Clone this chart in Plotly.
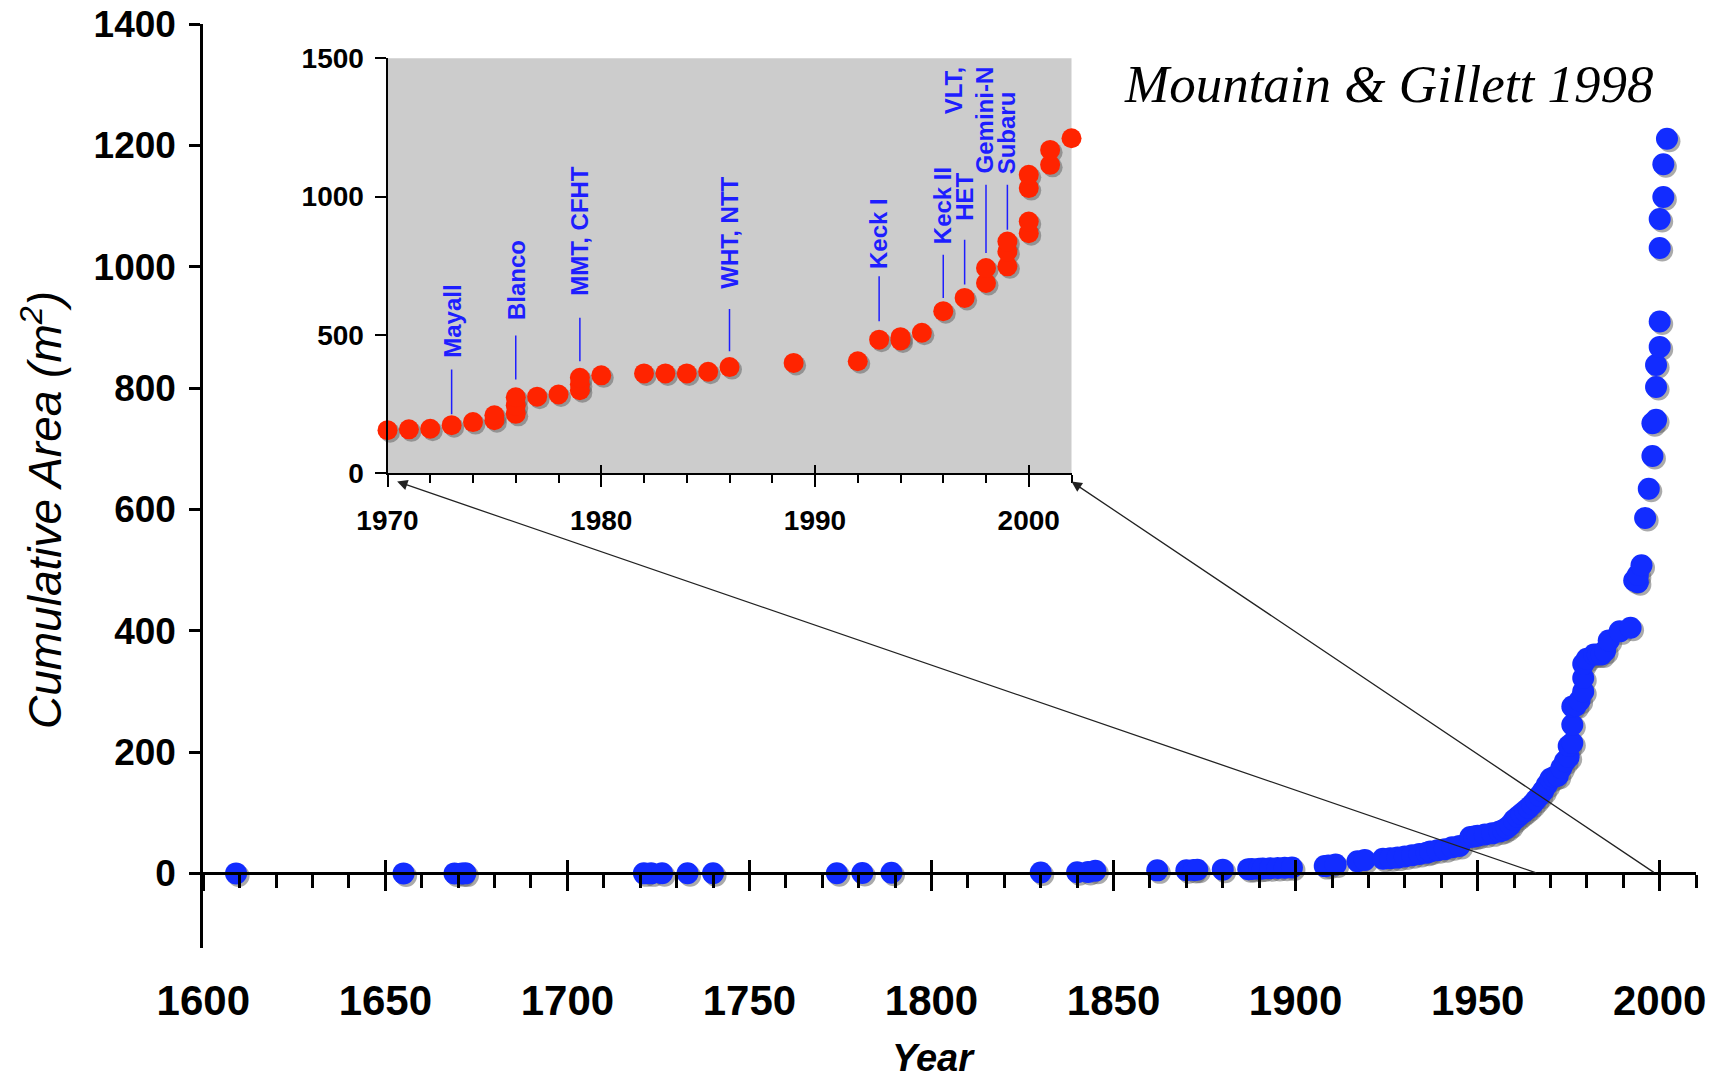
import plotly.graph_objects as go

PAGE_W, PAGE_H = 1726, 1087
OFF = 8                      # default page body margin
W, H = PAGE_W - 2 * OFF, PAGE_H - 2 * OFF

# ---------------- data ----------------
years = [1609, 1655, 1669, 1671, 1672, 1721, 1723, 1726, 1733, 1740, 1774, 1781, 1789,
         1830, 1840, 1843, 1845, 1862, 1870, 1872, 1873, 1880, 1887, 1888, 1890, 1891,
         1893, 1895, 1897, 1899, 1908, 1909, 1911, 1917, 1919, 1924, 1926, 1928, 1930,
         1932, 1934, 1936, 1937, 1939, 1941, 1943, 1945, 1948, 1949, 1950, 1952, 1954,
         1956, 1957, 1958, 1959, 1960, 1961, 1962, 1963, 1964, 1965, 1966, 1967, 1968,
         1969,
         1970, 1971, 1972, 1973, 1974, 1975, 1975, 1976, 1976, 1976, 1977, 1978, 1979,
         1979, 1979, 1980, 1982, 1983, 1984, 1985, 1986, 1989, 1992, 1993, 1994, 1994,
         1995, 1996, 1997, 1998, 1998, 1999, 1999, 1999, 2000, 2000, 2000, 2000, 2001,
         2001, 2002]
area = [0.0, 0.0, 0.01, 0.02, 0.03, 0.05, 0.07, 0.1, 0.15, 0.2, 0.3, 0.5, 1.2,
        1.6, 2.0, 2.4, 4.5, 5.0, 5.3, 5.6, 5.9, 6.2, 7.0, 7.4, 7.8, 8.2,
        8.6, 9.0, 9.4, 9.8, 12, 13, 14.5, 20, 22, 24, 25, 26, 28,
        30, 32, 34, 36, 38, 40, 43, 45, 60, 61, 62, 64, 66,
        69, 71, 75, 80, 88, 93, 98, 103, 108, 114, 121, 128, 136,
        146,
        156, 159, 161, 174, 185, 192, 210, 215, 245, 275, 277, 285, 300,
        322, 345, 354, 361, 361, 361, 367, 384, 399, 405, 483, 480, 492,
        508, 586, 634, 688, 742, 748, 802, 838, 868, 910, 1031, 1079, 1115,
        1169, 1211]
inset_start_year = 1970

label_names = ["Mayall", "Blanco", "MMT, CFHT", "WHT, NTT", "Keck I", "Keck II", "HET",
               "VLT,<br>Gemini-N", "Subaru"]
label_years = [1973, 1976, 1979, 1986, 1993, 1996, 1997, 1998, 1999]

main_x_ticks_major = 50
main_y_ticks = [0, 200, 400, 600, 800, 1000, 1200, 1400]
inset_y_ticks = [0, 500, 1000, 1500]

# ---------------- layout geometry (page pixels) ----------------
MX0, MX1 = 203.3, 1696.1      # main plot x extent
MY_TOP, MY_BOT = 24.2, 948.3  # main plot y extent
M_XR = [1600, 2010]
M_YR = [-123.5, 1400]
IX0, IX1 = 387.5, 1071.5      # inset x extent
IY_TOP, IY_BOT = 58.3, 473.3
I_XR = [1970, 2002]
I_YR = [0, 1500]

# label layout (inset data units)
label_text_y = [411, 546, 634, 658, 730, 820, 904, 1476, 1073]
label_anchor = ["bottom"] * 7 + ["top", "bottom"]
label_line_lo = [213, 339, 405, 441, 550, 634, 682, 796, 880]
label_line_hi = [375, 498, 562, 594, 712, 790, 844, 1043, 1043]

BLUE = "rgb(18,44,255)"
RED = "rgb(255,36,0)"
LBLUE = "rgb(30,30,255)"
SHADOW = "rgba(100,100,100,0.55)"
SANS = "Liberation Sans, Arial, sans-serif"


def px2paper_x(px):
    return (px - OFF) / W


def px2paper_y(py):
    return 1 - (py - OFF) / H


def data2px(v, r, p0, p1):
    return p0 + (v - r[0]) / (r[1] - r[0]) * (p1 - p0)


def px2data(p, r, p0, p1):
    return r[0] + (p - p0) / (p1 - p0) * (r[1] - r[0])


m_x_dom = [px2paper_x(MX0), px2paper_x(MX1)]
m_y_dom = [px2paper_y(MY_BOT), px2paper_y(MY_TOP)]
i_x_dom = [px2paper_x(IX0), px2paper_x(IX1)]
i_y_dom = [px2paper_y(IY_BOT), px2paper_y(IY_TOP)]
zero_py = data2px(0, M_YR, MY_BOT, MY_TOP)
zero_paper = px2paper_y(zero_py)

# shadow offsets in data units (2.5px right/down)
m_dx = 2.5 * (M_XR[1] - M_XR[0]) / (MX1 - MX0)
m_dy = -2.5 * (M_YR[1] - M_YR[0]) / (MY_BOT - MY_TOP)
i_dx = 2.5 * (I_XR[1] - I_XR[0]) / (IX1 - IX0)
i_dy = -2.5 * (I_YR[1] - I_YR[0]) / (IY_BOT - IY_TOP)

ins_years = [y for y in years if y >= inset_start_year]
ins_area = [a for y, a in zip(years, area) if y >= inset_start_year]

fig = go.Figure()

# main series
fig.add_trace(go.Scatter(x=[y + m_dx for y in years], y=[a + m_dy for a in area],
                         mode="markers", marker=dict(size=22, color=SHADOW),
                         hoverinfo="skip", showlegend=False, cliponaxis=False))
fig.add_trace(go.Scatter(x=years, y=area, mode="markers", name="Cumulative area",
                         marker=dict(size=22, color=BLUE), showlegend=False,
                         cliponaxis=False))
# helper trace so tick-only axis gets drawn
fig.add_trace(go.Scatter(x=[None], y=[None], xaxis="x2", yaxis="y",
                         showlegend=False, hoverinfo="skip"))

# inset label leader lines
lx, ly = [], []
for yr, lo, hi in zip(label_years, label_line_lo, label_line_hi):
    lx += [yr, yr, None]
    ly += [lo, hi, None]
fig.add_trace(go.Scatter(x=lx, y=ly, mode="lines", line=dict(color=LBLUE, width=1.5),
                         xaxis="x3", yaxis="y3", showlegend=False, hoverinfo="skip"))
# inset series
fig.add_trace(go.Scatter(x=[y + i_dx for y in ins_years], y=[a + i_dy for a in ins_area],
                         mode="markers", marker=dict(size=20, color=SHADOW),
                         xaxis="x3", yaxis="y3", hoverinfo="skip", showlegend=False,
                         cliponaxis=False))
fig.add_trace(go.Scatter(x=ins_years, y=ins_area, mode="markers",
                         marker=dict(size=20, color=RED), xaxis="x3", yaxis="y3",
                         showlegend=False, cliponaxis=False))
fig.add_trace(go.Scatter(x=[None], y=[None], xaxis="x4", yaxis="y3",
                         showlegend=False, hoverinfo="skip"))

tick_font_main_x = dict(family=SANS, size=42, color="black", weight="bold")
tick_font_main_y = dict(family=SANS, size=37, color="black", weight="bold")
tick_font_inset = dict(family=SANS, size=28, color="black", weight="bold")

fig.update_layout(
    width=W, height=H,
    margin=dict(l=0, r=0, t=0, b=0, autoexpand=False),
    paper_bgcolor="white", plot_bgcolor="rgba(0,0,0,0)",
    showlegend=False,
    xaxis=dict(domain=m_x_dom, range=M_XR, anchor="free", position=zero_paper,
               automargin=False, ticklabeloverflow="allow",
               showline=True, linewidth=3, linecolor="black",
               ticks="outside", ticklen=16, tickwidth=3, tickcolor="black",
               tick0=1600, dtick=main_x_ticks_major,
               minor=dict(dtick=10, ticks="outside", ticklen=13, tickwidth=2.5,
                          tickcolor="black", showgrid=False),
               tickfont=tick_font_main_x, ticklabelstandoff=73,
               showgrid=False, zeroline=False),
    xaxis2=dict(domain=m_x_dom, range=M_XR, anchor="free", position=zero_paper,
                automargin=False,
                overlaying="x", showline=False, ticks="inside", ticklen=13,
                tickwidth=3, tickcolor="black", tick0=1600, dtick=main_x_ticks_major,
                showticklabels=False, showgrid=False, zeroline=False),
    yaxis=dict(domain=m_y_dom, range=M_YR, anchor="x", showline=True, linewidth=3,
               automargin=False, ticklabeloverflow="allow",
               linecolor="black", ticks="outside", ticklen=11, tickwidth=3,
               tickcolor="black", tickvals=main_y_ticks, tickfont=tick_font_main_y,
               ticklabelstandoff=6, showgrid=False, zeroline=False),
    xaxis3=dict(domain=i_x_dom, range=I_XR, anchor="y3", showline=True, linewidth=2,
                automargin=False, ticklabeloverflow="allow",
                linecolor="black", ticks="outside", ticklen=12, tickwidth=2,
                tickcolor="black", tick0=1970, dtick=10,
                minor=dict(dtick=2, ticks="outside", ticklen=8, tickwidth=2,
                           tickcolor="black", showgrid=False),
                tickfont=tick_font_inset, ticklabelstandoff=9,
                showgrid=False, zeroline=False),
    xaxis4=dict(domain=i_x_dom, range=I_XR, anchor="y3", overlaying="x3",
                automargin=False,
                showline=False, ticks="inside", ticklen=8, tickwidth=2,
                tickcolor="black", tick0=1970, dtick=10, showticklabels=False,
                showgrid=False, zeroline=False),
    yaxis3=dict(domain=i_y_dom, range=I_YR, anchor="x3", showline=True, linewidth=2,
                automargin=False, ticklabeloverflow="allow",
                linecolor="black", ticks="outside", ticklen=11, tickwidth=2,
                tickcolor="black", tickvals=inset_y_ticks, tickfont=tick_font_inset,
                ticklabelstandoff=5, showgrid=False, zeroline=False),
)

fig.add_shape(type="rect", xref="x3 domain", yref="y3 domain", x0=0, x1=1, y0=0, y1=1,
              fillcolor="#cccccc", line=dict(width=0), layer="below")

# telescope labels
for name, yr, ty, anc in zip(label_names, label_years, label_text_y, label_anchor):
    two_line = "<br>" in name
    fig.add_annotation(x=yr, y=ty, xref="x3", yref="y3", text=name, showarrow=False,
                       textangle=-90, xanchor="right" if two_line else "center",
                       yanchor=anc, align="right", xshift=14 if two_line else 0,
                       font=dict(family=SANS, size=24, color=LBLUE, weight="bold"))

# zoom arrows (head at inset corners, tail on main axis)
def inset_to_main(xv, yv):
    px = data2px(xv, I_XR, IX0, IX1)
    py = data2px(yv, I_YR, IY_BOT, IY_TOP)
    return px2data(px, M_XR, MX0, MX1), px2data(py, M_YR, MY_BOT, MY_TOP)

for (hx, hy), tail_year in [((1970.45, -30), 1966.5), ((2002.0, -30), 1998.8)]:
    mx, my = inset_to_main(hx, hy)
    fig.add_annotation(x=mx, y=my, xref="x", yref="y", ax=tail_year, ay=0,
                       axref="x", ayref="y", text="", showarrow=True,
                       arrowhead=2, arrowsize=1.6, arrowwidth=1.3,
                       arrowcolor="#222222", standoff=0, startstandoff=0)

# titles
fig.add_annotation(x=px2paper_x(1122), y=px2paper_y(84), xref="paper", yref="paper",
                   text="Mountain &amp; Gillett 1998", showarrow=False, xanchor="left",
                   yanchor="middle",
                   font=dict(family="Liberation Serif, Times New Roman, serif", size=53,
                             style="italic", color="black"))
fig.add_annotation(x=px2paper_x(42), y=px2paper_y(510), xref="paper", yref="paper",
                   text="Cumulative Area (m<sup>2</sup>)", showarrow=False,
                   textangle=-90, xanchor="center", yanchor="middle",
                   font=dict(family=SANS, size=46, style="italic", color="black"))
fig.add_annotation(x=px2paper_x(933), y=px2paper_y(1079), xref="paper", yref="paper",
                   text="Year", showarrow=False, xanchor="center", yanchor="bottom",
                   yshift=-2,
                   font=dict(family=SANS, size=38, style="italic", weight="bold",
                             color="black"))

fig.write_html("out.html")
